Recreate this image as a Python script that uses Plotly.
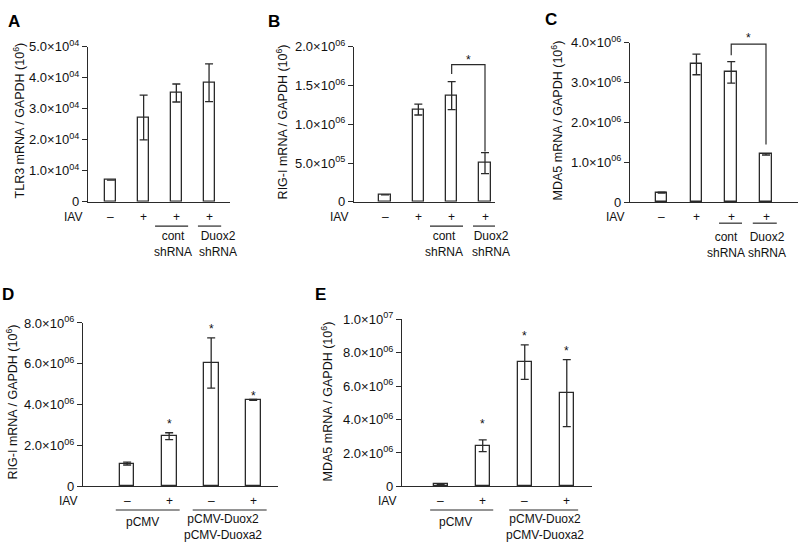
import plotly.graph_objects as go

W, H = 798, 550
LC = "#2a2a2a"
TC = "#111111"
FONT = "Liberation Sans, Arial, sans-serif"

# ---------------- data ----------------
positions = [0, 1, 2, 3]

A_vals = [7000, 27200, 35100, 38400]
A_err = [0, 7200, 2900, 6100]

B_vals = [90000, 1190000, 1370000, 500000]
B_err = [0, 70000, 180000, 135000]

C_vals = [240000, 3460000, 3260000, 1200000]
C_err = [10000, 260000, 270000, 20000]

D_vals = [1120000, 2460000, 6040000, 4240000]
D_err = [70000, 170000, 1230000, 20000]

E_vals = [120000, 2430000, 7430000, 5580000]
E_err = [20000, 350000, 1030000, 2000000]

iav_shrna = ["\u2013", "+", "+", "+"]
iav_pcmv = ["\u2013", "+", "\u2013", "+"]

A_ticks = [0, 10000, 20000, 30000, 40000, 50000]
A_ticktext = ["0", "1.0×10<sup>04</sup>", "2.0×10<sup>04</sup>", "3.0×10<sup>04</sup>",
              "4.0×10<sup>04</sup>", "5.0×10<sup>04</sup>"]
B_ticks = [0, 500000, 1000000, 1500000, 2000000]
B_ticktext = ["0", "5.0×10<sup>05</sup>", "1.0×10<sup>06</sup>", "1.5×10<sup>06</sup>",
              "2.0×10<sup>06</sup>"]
C_ticks = [0, 1000000, 2000000, 3000000, 4000000]
C_ticktext = ["0", "1.0×10<sup>06</sup>", "2.0×10<sup>06</sup>", "3.0×10<sup>06</sup>",
              "4.0×10<sup>06</sup>"]
D_ticks = [0, 2000000, 4000000, 6000000, 8000000]
D_ticktext = ["0", "2.0×10<sup>06</sup>", "4.0×10<sup>06</sup>", "6.0×10<sup>06</sup>",
              "8.0×10<sup>06</sup>"]
E_ticks = [0, 2000000, 4000000, 6000000, 8000000, 10000000]
E_ticktext = ["0", "2.0×10<sup>06</sup>", "4.0×10<sup>06</sup>", "6.0×10<sup>06</sup>",
              "8.0×10<sup>06</sup>", "1.0×10<sup>07</sup>"]

titles = ["TLR3 mRNA / GAPDH (10<sup>6</sup>)",
          "RIG-I mRNA / GAPDH (10<sup>6</sup>)",
          "MDA5 mRNA / GAPDH (10<sup>6</sup>)",
          "RIG-I mRNA / GAPDH (10<sup>6</sup>)",
          "MDA5 mRNA / GAPDH (10<sup>6</sup>)"]
letters = ["A", "B", "C", "D", "E"]

# ---------------- layout helpers (pixel geometry) ----------------
def px(x):
    return x / W

def py(y):
    return 1 - y / H

panels = [
    dict(vals=A_vals, err=A_err, ticks=A_ticks, tt=A_ticktext, ymax=50000,
         xd=(88, 230), yd=(39, 199), xr=(-0.70, 3.64), bw=0.34, signs=iav_shrna,
         letter=(13.5, 12.5), title=(19, 115), sign_y=215, line_y=224,
         lines=[(1.35, 2.36), (2.66, 3.37)],
         labels=[(1.9, 243, "cont<br>shRNA"), (3.26, 243, "Duox2<br>shRNA")]),
    dict(vals=B_vals, err=B_err, ticks=B_ticks, tt=B_ticktext, ymax=2000000,
         xd=(354, 495), yd=(39, 199), xr=(-0.93, 3.30), bw=0.34, signs=iav_shrna,
         letter=(274, 12.5), title=(282, 117), sign_y=215, line_y=224,
         lines=[(1.35, 2.34), (2.64, 3.36)],
         labels=[(1.78, 243, "cont<br>shRNA"), (3.18, 243, "Duox2<br>shRNA")]),
    dict(vals=C_vals, err=C_err, ticks=C_ticks, tt=C_ticktext, ymax=4000000,
         xd=(630, 798), yd=(35, 199.3), xr=(-0.91, 3.92), bw=0.33, signs=iav_shrna,
         letter=(551, 11), title=(557, 115), sign_y=215, line_y=221,
         lines=[(1.65, 2.31), (2.62, 3.31)],
         labels=[(1.84, 243.5, "cont<br>shRNA"), (3.04, 243.5, "Duox2<br>shRNA")]),
    dict(vals=D_vals, err=D_err, ticks=D_ticks, tt=D_ticktext, ymax=8000000,
         xd=(83, 278), yd=(324, 492.7), xr=(-1.05, 3.59), bw=0.35, signs=iav_pcmv,
         letter=(7.5, 295), title=(12, 406), sign_y=508, line_y=517,
         lines=[(-0.27, 1.25), (1.56, 3.32)],
         labels=[(0.36, 529, "pCMV"), (2.28, 535, "pCMV-Duox2<br>pCMV-Duoxa2")]),
    dict(vals=E_vals, err=E_err, ticks=E_ticks, tt=E_ticktext, ymax=10000000,
         xd=(402, 592), yd=(320, 492.7), xr=(-0.92, 3.60), bw=0.34, signs=iav_pcmv,
         letter=(320, 294.5), title=(327, 405), sign_y=508, line_y=517,
         lines=[(-0.25, 1.25), (1.63, 3.27)],
         labels=[(0.36, 529, "pCMV"), (2.49, 535, "pCMV-Duox2<br>pCMV-Duoxa2")]),
]

# significance brackets (panel index, x0, x1, left-bottom, top, right-bottom, star pixel offset)
brackets = [
    (1, 2, 3, 1650000, 1770000, 650000, 5),
    (2, 2, 3, 3690000, 3970000, 1450000, 6),
]
# single stars above bars (panel index, bar position, y)
stars = [
    (3, 1, 3070000), (3, 2, 7700000), (3, 3, 4440000),
    (4, 1, 3750000), (4, 2, 9020000), (4, 3, 8090000),
]

fig = go.Figure()
annotations = []
shapes = []
layout = {}

for i, p in enumerate(panels):
    n = i + 1
    xa = "x" if n == 1 else f"x{n}"
    ya = "y" if n == 1 else f"y{n}"
    fig.add_trace(go.Bar(
        x=positions, y=p["vals"], width=p["bw"], xaxis=xa, yaxis=ya,
        marker=dict(color="white", line=dict(color=LC, width=1.3)),
        error_y=dict(type="data", array=p["err"], color=LC, thickness=1.3, width=4),
        showlegend=False, hoverinfo="skip"))
    xk = "xaxis" if n == 1 else f"xaxis{n}"
    yk = "yaxis" if n == 1 else f"yaxis{n}"
    layout[xk] = dict(domain=[px(p["xd"][0]), px(p["xd"][1])], range=list(p["xr"]),
                      anchor=ya, showline=True, linecolor=LC, linewidth=1.3,
                      showgrid=False, zeroline=False, showticklabels=False, ticks="",
                      fixedrange=True)
    layout[yk] = dict(domain=[py(p["yd"][1]), py(p["yd"][0])], range=[0, p["ymax"]],
                      anchor=xa, showline=True, linecolor=LC, linewidth=1.3,
                      showgrid=False, zeroline=False, ticks="outside", ticklen=5,
                      tickwidth=1.3, tickcolor=LC, tickvals=p["ticks"], ticktext=p["tt"],
                      tickfont=dict(family=FONT, size=13, color=TC), fixedrange=True)
    # panel letter
    annotations.append(dict(text=f"<b>{letters[i]}</b>", x=px(p["letter"][0]), y=py(p["letter"][1]),
                            xref="paper", yref="paper", xanchor="center", yanchor="middle",
                            showarrow=False, font=dict(family=FONT, size=17, color="black")))
    # y title
    annotations.append(dict(text=titles[i], x=px(p["title"][0]), y=py(p["title"][1]),
                            xref="paper", yref="paper", xanchor="center", yanchor="middle",
                            textangle=-90, showarrow=False,
                            font=dict(family=FONT, size=12.5, color=TC)))
    # IAV label
    annotations.append(dict(text="IAV", x=px(p["xd"][0] - 4), y=py(p["sign_y"]),
                            xref="paper", yref="paper", xanchor="right", yanchor="middle",
                            showarrow=False, font=dict(family=FONT, size=12, color=TC)))
    for xpos, s in zip(positions, p["signs"]):
        annotations.append(dict(text=s, x=xpos, y=py(p["sign_y"]), xref=xa, yref="paper",
                                xanchor="center", yanchor="middle", showarrow=False,
                                font=dict(family=FONT, size=12, color=TC)))
    for (x0, x1) in p["lines"]:
        shapes.append(dict(type="line", xref=xa, yref="paper", x0=x0, x1=x1,
                           y0=py(p["line_y"]), y1=py(p["line_y"]),
                           line=dict(color=LC, width=1.2)))
    for (xc, yy, t) in p["labels"]:
        annotations.append(dict(text=t, x=xc, y=py(yy), xref=xa, yref="paper",
                                xanchor="center", yanchor="middle", showarrow=False,
                                font=dict(family=FONT, size=12, color=TC)))

for (pi, x0, x1, lb, top, rb, soff) in brackets:
    n = pi + 1
    xa = f"x{n}"
    ya = f"y{n}"
    path = f"M {x0},{lb:.0f} L {x0},{top:.0f} L {x1},{top:.0f} L {x1},{rb:.0f}"
    shapes.append(dict(type="path", path=path, xref=xa, yref=ya,
                       line=dict(color=LC, width=1.2)))
    annotations.append(dict(text="*", x=(x0 + x1) / 2, y=top, xref=xa, yref=ya,
                            xanchor="center", yanchor="middle", yshift=soff, showarrow=False,
                            font=dict(family=FONT, size=12, color=TC)))

for (pi, xb, sy) in stars:
    n = pi + 1
    annotations.append(dict(text="*", x=xb, y=sy, xref=f"x{n}", yref=f"y{n}",
                            xanchor="center", yanchor="middle", yshift=0, showarrow=False,
                            font=dict(family=FONT, size=12, color=TC)))

fig.update_layout(
    width=W, height=H, margin=dict(l=0, r=0, t=0, b=0),
    paper_bgcolor="white", plot_bgcolor="white",
    font=dict(family=FONT, size=12, color=TC),
    annotations=annotations, shapes=shapes, bargap=0,
    **layout)

fig.write_html("out.html", config={"displayModeBar": False},
               post_script="document.body.style.margin='0';document.body.style.padding='0';"
                           "document.body.style.overflow='hidden';")
